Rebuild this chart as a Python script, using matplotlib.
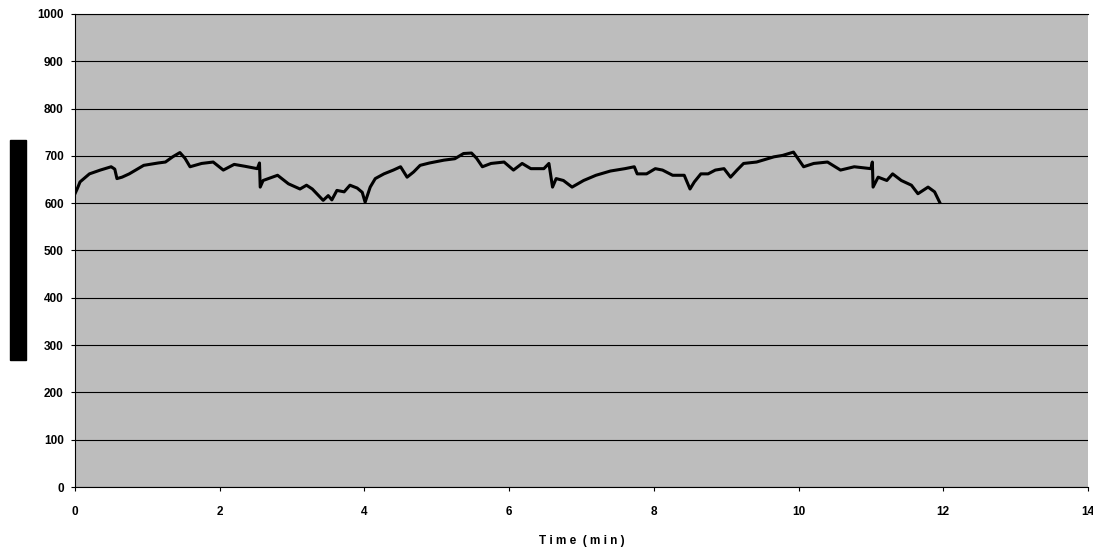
import matplotlib.pyplot as plt
from matplotlib.patches import Rectangle

# time (min) and signal
time = [0.0, 0.03, 0.07, 0.2, 0.35, 0.5, 0.55, 0.58, 0.65, 0.75, 0.95, 1.15, 1.25, 1.35, 1.45,
        1.52, 1.59, 1.75, 1.91, 2.05, 2.2, 2.35, 2.52, 2.55, 2.56, 2.6, 2.8, 2.95, 3.11, 3.2,
        3.28, 3.43, 3.5, 3.55, 3.62, 3.72, 3.8, 3.9, 3.97, 4.01, 4.08, 4.15, 4.27, 4.4, 4.5,
        4.59, 4.68, 4.77, 4.9, 5.1, 5.25, 5.37, 5.48, 5.55, 5.63, 5.75, 5.93, 6.06, 6.18, 6.3,
        6.48, 6.55, 6.6, 6.65, 6.75, 6.87, 7.03, 7.2, 7.4, 7.6, 7.73, 7.77, 7.9, 8.02, 8.12,
        8.26, 8.42, 8.5, 8.56, 8.65, 8.75, 8.85, 8.97, 9.06, 9.15, 9.24, 9.42, 9.66, 9.78,
        9.93, 10.07, 10.21, 10.4, 10.58, 10.77, 11.0, 11.02, 11.03, 11.1, 11.22, 11.3, 11.42,
        11.56, 11.65, 11.79, 11.88, 11.95]
signal = [620, 630, 645, 662, 670, 677, 672, 652, 655, 662, 680, 685, 687, 698, 707,
          695, 677, 684, 687, 670, 682, 678, 673, 685, 634, 648, 659, 641, 630, 638,
          630, 606, 616, 607, 627, 624, 638, 632, 623, 602, 634, 652, 662, 670, 677,
          655, 666, 680, 685, 691, 694, 705, 706, 695, 677, 684, 687, 670, 684, 673,
          673, 684, 634, 652, 648, 634, 648, 659, 668, 673, 677, 662, 662, 673, 670,
          659, 659, 630, 645, 662, 662, 670, 673, 655, 670, 684, 687, 698, 701,
          708, 677, 684, 687, 670, 677, 673, 687, 634, 655, 648, 662, 648,
          638, 620, 634, 624, 602]

fig = plt.figure(figsize=(10.93, 5.48), dpi=100)
ax = fig.add_axes([0.0686, 0.1113, 0.9268, 0.8632])
ax.set_facecolor('#bdbdbd')

ax.plot(time, signal, color='black', linewidth=2.2)

ax.set_xlim(0, 14)
ax.set_ylim(0, 1000)
ax.set_xticks(range(0, 15, 2))
ax.set_yticks(range(0, 1001, 100))
ax.grid(axis='y', color='black', linewidth=0.8)
ax.set_axisbelow(True)

ax.spines['right'].set_visible(False)
ax.spines['top'].set_linewidth(0.8)
ax.tick_params(labelsize=8.5, length=3, width=0.8, direction='out')
for lab in ax.get_xticklabels() + ax.get_yticklabels():
    lab.set_fontfamily('Liberation Sans')
    lab.set_fontweight('bold')
ax.tick_params(axis='x', pad=11)
ax.tick_params(axis='y', pad=5)

ax.set_xlabel('T i m e  ( m i n )', fontsize=8.5, fontweight='bold',
              fontfamily='Liberation Sans', labelpad=12)

# redacted y-axis label block
fig.patches.append(Rectangle((10 / 1093, 1 - 360 / 548), 16 / 1093, 220 / 548,
                             transform=fig.transFigure, color='black'))

fig.savefig('out.png', dpi=100)
